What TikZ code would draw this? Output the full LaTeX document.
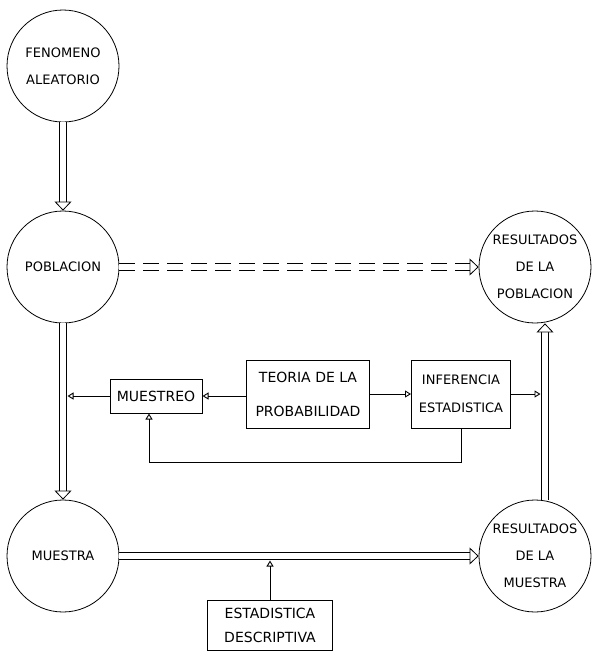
\documentclass[tikz,border=0pt]{standalone}
\usepackage{fontspec}
\setmainfont{DejaVu Sans}
\usepackage{tikz}
\usetikzlibrary{shapes, arrows.meta, positioning}
\tikzstyle{bubble} = [draw, circle, minimum size=112pt, inner sep=0pt, align=center, line width=0.8pt, font=\fontsize{13}{27}\selectfont]
\tikzstyle{block} = [draw, fill=white, rectangle, align=center, line width=1pt, font=\fontsize{14}{16}\selectfont]
\tikzstyle{rail} = [double, double distance=6pt, line width=0.8pt, -{Triangle[open, length=9pt, width=17pt, fill=white]}]
\tikzstyle{hint} = [line width=0.9pt, -{Triangle[open, length=6pt, width=7pt]}]

\begin{document}
\begin{tikzpicture}[x=1pt,y=-1pt,>=latex]
    \useasboundingbox (0,0) rectangle (592,653);
    \node [bubble] (fenomeno) at (63,66) {FENOMENO\\ALEATORIO};
    \node [bubble, below of=fenomeno, node distance=201pt] (poblacion) {POBLACION};
    \node [bubble, below of=poblacion, node distance=289pt] (muestra) {MUESTRA};
    \node [bubble, right of=poblacion, node distance=472pt] (respob) {RESULTADOS\\DE LA\\POBLACION};
    \node [bubble, below of=respob, node distance=289pt] (resmue) {RESULTADOS\\DE LA\\MUESTRA};
    \node [block, minimum width=92pt, minimum height=34pt] (muestreo) at (156,396) {MUESTREO};
    \node [block, minimum width=123pt, minimum height=68pt] (teoria) at (308,394) {TEORIA DE LA\\[18pt]PROBABILIDAD};
    \node [block, minimum width=99pt, minimum height=68pt, font=\fontsize{13}{16}\selectfont] (inferencia) at (461,394) {INFERENCIA\\[12pt]ESTADISTICA};
    \node [block, minimum width=125pt, minimum height=50pt] (estadistica) at (270,625) {ESTADISTICA\\[8pt]DESCRIPTIVA};
    \draw [rail] (fenomeno) -- (poblacion);
    \draw [rail] (poblacion) -- (muestra);
    \draw [rail, dash pattern=on 16pt off 8pt] (poblacion) -- (respob);
    \draw [rail] (muestra) -- (resmue);
    % flecha doble de la derecha, algo corrida del centro
    \coordinate (rbot) at ([xshift=10pt]resmue.north);
    \coordinate (rtop) at ([xshift=10pt]respob.south);
    \draw [rail] (rbot) -- (rtop);
    % puntos de llegada sobre las flechas dobles
    \coordinate (lrail) at ([xshift=4.5pt]muestreo -| poblacion);
    \coordinate (rrail) at ([xshift=-4.5pt]inferencia -| rtop);
    \coordinate (drail) at ([yshift=-4.5pt]estadistica |- muestra);
    \coordinate (mq) at ([xshift=-7pt]muestreo.south);
    \coordinate (loop) at (0,462);
    \draw [hint] (muestreo) -- (lrail);
    \draw [hint] (teoria.west |- muestreo) -- (muestreo);
    \draw [hint] (teoria) -- (inferencia);
    \draw [hint] (inferencia) -- (rrail);
    \draw [hint] (estadistica) -- (drail);
    \draw [hint, {Triangle[open, length=6pt, width=7pt]}-] (mq) -- (mq |- loop) -| (inferencia.south);
\end{tikzpicture}
\end{document}
